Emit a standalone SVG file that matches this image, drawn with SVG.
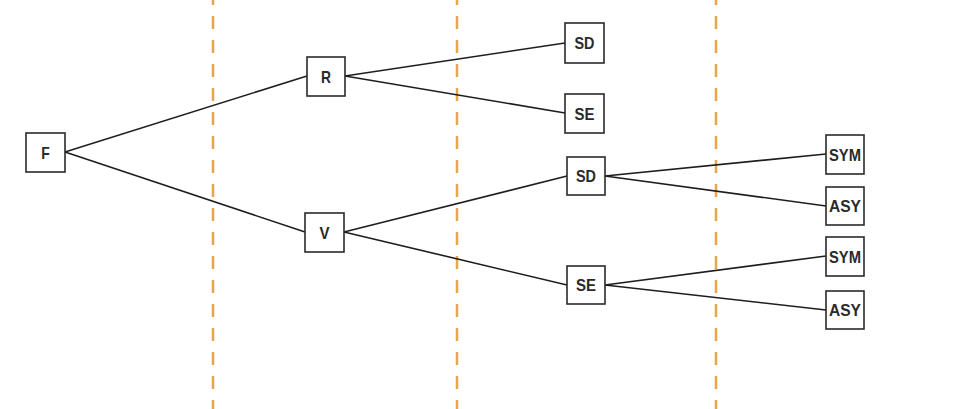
<svg xmlns="http://www.w3.org/2000/svg" width="969" height="409" viewBox="0 0 969 409">
<style>
.bg{fill:#ffffff}
.guide{stroke:#e6a64c;stroke-width:2.5;stroke-dasharray:13 11;stroke-dashoffset:8;fill:none}
.edge{stroke:#1e1e1e;stroke-width:1.6;fill:none}
.box{fill:#ffffff;stroke:#2a2a2a;stroke-width:1.6}
.lbl{font-family:"Liberation Sans",Arial,sans-serif;font-weight:bold;font-size:17px;fill:#2a2a2a;text-anchor:middle;dominant-baseline:central}
</style>
<rect class="bg" x="0" y="0" width="969" height="409"/>
<g id="guides">
<line class="guide" x1="213" y1="0" x2="213" y2="409"/>
<line class="guide" x1="457" y1="0" x2="457" y2="409"/>
<line class="guide" x1="716" y1="0" x2="716" y2="409"/>
</g>
<g id="connectors">
<line class="edge" x1="65" y1="152" x2="307" y2="76"/>
<line class="edge" x1="65" y1="152" x2="305" y2="232"/>
<line class="edge" x1="345" y1="76" x2="565" y2="43"/>
<line class="edge" x1="345" y1="76" x2="565" y2="113"/>
<line class="edge" x1="344" y1="232" x2="567" y2="176"/>
<line class="edge" x1="344" y1="232" x2="567" y2="285"/>
<line class="edge" x1="605" y1="176" x2="826" y2="154"/>
<line class="edge" x1="605" y1="176" x2="826" y2="206"/>
<line class="edge" x1="605" y1="285" x2="826" y2="256"/>
<line class="edge" x1="605" y1="285" x2="826" y2="310"/>
</g>
<g id="node-F"><rect class="box" x="26" y="133" width="39" height="39"/><text class="lbl" x="45.5" y="153" textLength="8.5" lengthAdjust="spacingAndGlyphs">F</text></g>
<g id="node-R"><rect class="box" x="307" y="57" width="38" height="39"/><text class="lbl" x="326" y="77" textLength="10" lengthAdjust="spacingAndGlyphs">R</text></g>
<g id="node-V"><rect class="box" x="305" y="213" width="39" height="39"/><text class="lbl" x="324.5" y="233" textLength="10" lengthAdjust="spacingAndGlyphs">V</text></g>
<g id="node-SD1"><rect class="box" x="565" y="23" width="39" height="40"/><text class="lbl" x="584.5" y="43.5" textLength="20" lengthAdjust="spacingAndGlyphs">SD</text></g>
<g id="node-SE1"><rect class="box" x="565" y="94" width="39" height="39"/><text class="lbl" x="584.5" y="114" textLength="20" lengthAdjust="spacingAndGlyphs">SE</text></g>
<g id="node-SD2"><rect class="box" x="567" y="157" width="38" height="38"/><text class="lbl" x="586" y="176.5" textLength="20" lengthAdjust="spacingAndGlyphs">SD</text></g>
<g id="node-SE2"><rect class="box" x="567" y="266" width="38" height="38"/><text class="lbl" x="586" y="285.5" textLength="20" lengthAdjust="spacingAndGlyphs">SE</text></g>
<g id="node-SYM1"><rect class="box" x="826" y="135" width="38" height="39"/><text class="lbl" x="845" y="155" textLength="32" lengthAdjust="spacingAndGlyphs">SYM</text></g>
<g id="node-ASY1"><rect class="box" x="826" y="187" width="38" height="38"/><text class="lbl" x="845" y="206.5" textLength="32" lengthAdjust="spacingAndGlyphs">ASY</text></g>
<g id="node-SYM2"><rect class="box" x="826" y="237" width="38" height="39"/><text class="lbl" x="845" y="257" textLength="32" lengthAdjust="spacingAndGlyphs">SYM</text></g>
<g id="node-ASY2"><rect class="box" x="826" y="291" width="38" height="38"/><text class="lbl" x="845" y="310.5" textLength="32" lengthAdjust="spacingAndGlyphs">ASY</text></g>
</svg>
